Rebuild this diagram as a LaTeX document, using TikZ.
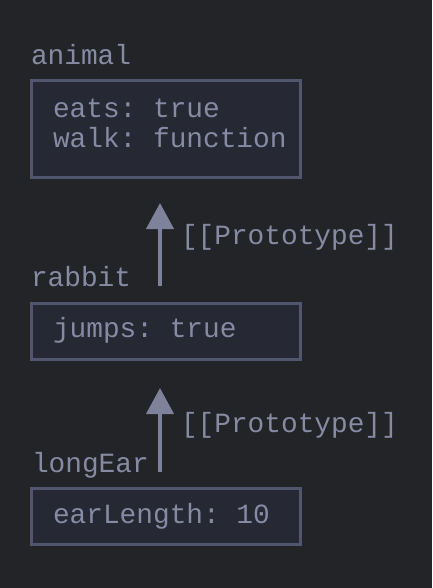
\documentclass[tikz,border=0pt]{standalone}
\usepackage{fontspec}
\setmonofont{Liberation Mono}
\usetikzlibrary{arrows.meta}
\definecolor{bgc}{HTML}{232428}
\definecolor{boxfill}{HTML}{262833}
\definecolor{boxline}{HTML}{50566E}
\definecolor{txt}{HTML}{868BA3}
\definecolor{arrc}{HTML}{7E839B}
\tikzset{
  objbox/.style={draw=boxline, fill=boxfill, line width=3pt, rectangle, inner sep=0pt, outer sep=0pt},
  code/.style={anchor=base west, inner sep=0pt, outer sep=0pt, text=txt, font=\ttfamily\fontsize{27.8pt}{30pt}\selectfont},
  protoarrow/.style={draw=arrc, line width=4pt, -{Triangle[width=27pt,length=26pt]}},
}
\begin{document}
\begin{tikzpicture}[x=1pt,y=-1pt]
\fill[bgc] (0,0) rectangle (432,588);
\useasboundingbox (0,0) rectangle (432,588);
% boxes
\node[objbox, minimum width=269pt, minimum height=97pt, anchor=north west] (animalbox) at (31.5,80.5) {};
\node[objbox, minimum width=269pt, minimum height=56pt, anchor=north west] (rabbitbox) at (31.5,303.5) {};
\node[objbox, minimum width=269pt, minimum height=56pt, anchor=north west] (longearbox) at (31.5,488.5) {};
% labels
\node[code] (animal) at (31,65) {animal};
\node[code] (rabbit) at (31,286) {rabbit};
\node[code] (longear) at (32,472) {longEar};
% contents
\node[code] (eats) at (53,118) {eats: true};
\node[code] (walk) at (53,148) {walk: function};
\node[code] (jumps) at (53,337) {jumps: true};
\node[code] (earlen) at (53,523) {earLength: 10};
% arrows
\coordinate (r1) at (160,286);
\coordinate (a1) at (160,203);
\coordinate (l1) at (160,472);
\coordinate (b1) at (160,388);
\draw[protoarrow] (r1) -- (a1);
\draw[protoarrow] (l1) -- (b1);
\node[code] (proto1) at (181,244) {[[Prototype]]};
\node[code] (proto2) at (181,432) {[[Prototype]]};
\end{tikzpicture}
\end{document}
